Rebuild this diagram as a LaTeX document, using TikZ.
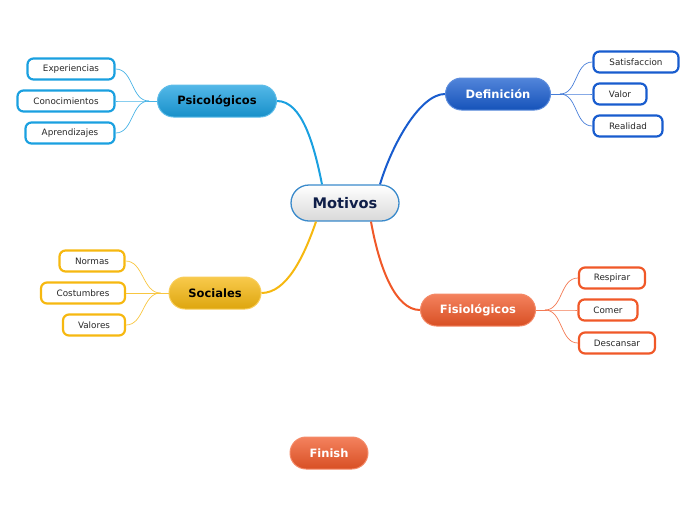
\documentclass[tikz,border=0pt]{standalone}
\usepackage{fontspec}
\setmainfont{DejaVu Sans}
\usetikzlibrary{shapes.misc}
\definecolor{psyblue}{RGB}{26,160,224}
\definecolor{defblue}{RGB}{24,92,206}
\definecolor{socgold}{RGB}{246,184,16}
\definecolor{fisred}{RGB}{240,88,40}
\definecolor{rootline}{RGB}{58,138,203}
\definecolor{navy}{RGB}{15,30,72}
\definecolor{leaftext}{RGB}{40,40,40}

\begin{document}
\begin{tikzpicture}[x=1pt,y=-1pt,
  root/.style={rounded rectangle,draw=rootline,line width=1.3pt,top color=white,bottom color=black!15,text=navy,font=\bfseries\fontsize{14.6}{16}\selectfont,minimum width=108pt,minimum height=36pt,inner sep=0pt},
  branch/.style={rounded rectangle,draw=#1!70!white,line width=1pt,top color=#1!75!white,bottom color=#1!90!black,font=\bfseries\fontsize{11.5}{13}\selectfont,minimum height=32pt,inner sep=0pt},
  leaf/.style={rounded corners=6pt,draw=#1,line width=2.2pt,fill=white,text=leaftext,font=\fontsize{8.8}{10}\selectfont,minimum height=21pt,inner sep=0pt},
  link/.style={line width=2pt,draw=#1},
  twig/.style={line width=.7pt,draw=#1!80!white}]
  \useasboundingbox (0,0) rectangle (696,520);
  % central node
  \node[root] (mot) at (345,203) {Motivos};
  % branches
  \node[branch=psyblue,text=black,minimum width=119pt] (psi) at (217,101) {Psicológicos};
  \node[branch=defblue,text=white,minimum width=105pt] (def) at (498,94) {Definición};
  \node[branch=socgold,text=black,minimum width=92pt] (soc) at (215,293) {Sociales};
  \node[branch=fisred,text=white,minimum width=115pt] (fis) at (478,310) {Fisiológicos};
  \node[branch=fisred,text=white,minimum width=78pt] (fin) at (329,453) {Finish};
  % leaves
  \node[leaf=psyblue,minimum width=87pt] (exp) at (71,69) {Experiencias};
  \node[leaf=psyblue,minimum width=97pt] (con) at (66,101) {Conocimientos};
  \node[leaf=psyblue,minimum width=89pt] (apr) at (70,133) {Aprendizajes};
  \node[leaf=defblue,minimum width=85pt] (sat) at (636,62) {Satisfaccion};
  \node[leaf=defblue,minimum width=53pt] (val) at (620,94) {Valor};
  \node[leaf=defblue,minimum width=69pt] (rea) at (628,126) {Realidad};
  \node[leaf=socgold,minimum width=65pt] (nor) at (92,261) {Normas};
  \node[leaf=socgold,minimum width=84pt] (cos) at (83,293) {Costumbres};
  \node[leaf=socgold,minimum width=62pt] (vls) at (94,325) {Valores};
  \node[leaf=fisred,minimum width=66pt] (res) at (612,278) {Respirar};
  \node[leaf=fisred,minimum width=59pt] (com) at (608,310) {Comer};
  \node[leaf=fisred,minimum width=76pt] (des) at (617,343) {Descansar};
  % main links
  \draw[link=psyblue] ([xshift=-23pt]mot.north) .. controls +(-8,-40) and +(25,0) .. (psi.east);
  \draw[link=defblue] ([xshift=35pt]mot.north) .. controls +(12,-40) and +(-25,0) .. (def.west);
  \draw[link=socgold] ([xshift=-29pt]mot.south) .. controls +(-12,35) and +(25,0) .. (soc.east);
  \draw[link=fisred] ([xshift=26pt]mot.south) .. controls +(8,45) and +(-25,0) .. (fis.west);
  % junctions
  \coordinate (jpsi) at ([xshift=-8pt]psi.west);
  \coordinate (jdef) at ([xshift=9pt]def.east);
  \coordinate (jsoc) at ([xshift=-8pt]soc.west);
  \coordinate (jfis) at ([xshift=9pt]fis.east);
  \draw[twig=psyblue] (psi.west) -- (jpsi);
  \draw[twig=defblue] (def.east) -- (jdef);
  \draw[twig=socgold] (soc.west) -- (jsoc);
  \draw[twig=fisred] (fis.east) -- (jfis);
  \foreach \n in {exp,con,apr}
    \draw[twig=psyblue] (jpsi) .. controls +(-18,0) and +(18,0) .. (\n.east);
  \foreach \n in {sat,val,rea}
    \draw[twig=defblue] (jdef) .. controls +(18,0) and +(-18,0) .. (\n.west);
  \foreach \n in {nor,cos,vls}
    \draw[twig=socgold] (jsoc) .. controls +(-18,0) and +(18,0) .. (\n.east);
  \foreach \n in {res,com,des}
    \draw[twig=fisred] (jfis) .. controls +(18,0) and +(-18,0) .. (\n.west);
\end{tikzpicture}
\end{document}
